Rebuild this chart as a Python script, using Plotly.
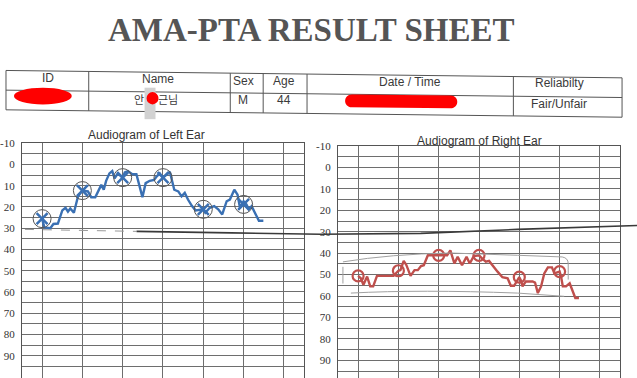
import plotly.graph_objects as go

W, H = 637, 378

# ---------------- data ----------------
freq_ticks = [125, 250, 500, 1000, 2000, 4000, 8000]
db_ticks = [-10, 0, 10, 20, 30, 40, 50, 60, 70, 80, 90, 100]
db_tick_text = ["-10", "0", "10", "20", "30", "40", "50", "60", "70", "80", "90", "100"]

left_freq = [125, 130, 144, 152, 164, 177, 187, 195, 203, 216, 232, 250, 275, 291, 312,
             332, 346, 361, 376, 398, 418, 435, 460, 500, 518, 547, 590, 633, 702, 742,
             796, 858, 895, 946, 1000, 1094, 1125, 1214, 1301, 1376, 1454, 1537, 1647,
             1753, 2000, 2070, 2235, 2412, 2585, 2770, 2990, 3160, 3410, 3605, 3758,
             4000, 4199, 4377, 4595, 4857, 5205, 5618]
left_db = [25.5, 29.6, 30, 28, 27.8, 21.6, 20.4, 22.2, 20.7, 22.7, 15, 12.3, 12.7, 15.4, 15.4,
           11.9, 9.6, 11.9, 7.7, 4.2, 3.1, 6.5, 4.2, 6.2, 3.7, 3.1, 4.6, 4.6, 15.4, 8.8,
           7.7, 7.3, 5.7, 4.2, 6.2, 4.2, 3.4, 11.9, 12.7, 15, 13.4, 16.5, 19.6,
           21.6, 21.1, 22.7, 20.4, 19.6, 21.1, 23.5, 17.3, 16.5, 11.9, 14.2, 20.4,
           17.3, 18.8, 21.1, 19.6, 22.7, 26.5, 26.5]

left_mark_freq = [125, 250, 500, 1000, 2000, 4000]
left_mark_db = [25.5, 12.3, 6.2, 6.2, 21.1, 18.8]

right_freq = [125, 131, 137, 146, 154, 162, 173, 230, 250, 259, 274, 287, 308, 330, 349,
              369, 387, 415, 444, 500, 528, 578, 611, 655, 693, 747, 807, 853, 914, 1000,
              1057, 1125, 1189, 1257, 1376, 1495, 1636, 1729, 1828, 2000, 2060, 2114,
              2235, 2514, 2621, 2751, 2908, 3074, 3271, 3506, 3655, 4000, 4100, 4228,
              4469, 4757, 4959, 5241, 5579]
right_db = [50.6, 51.7, 54.7, 50.9, 55.5, 55.5, 50.6, 50.6, 48.2, 47.9, 43.6, 45.6, 50.6, 47.9, 47.9,
            46, 45.6, 41, 41, 41, 41, 41, 38.7, 44.8, 41.7, 45.6, 41.7, 44.8, 41.4, 41,
            42.5, 44, 43.6, 45.6, 48.6, 51.2, 51.7, 55.2, 55.2, 51.2, 52.8, 55.5,
            53.2, 53.2, 53.7, 58.6, 55.5, 49.4, 46.6, 46.6, 49.4, 48.6, 50.9, 55.5,
            55.5, 54, 57.3, 60.9, 60.9]

right_mark_freq = [125, 250, 500, 1000, 2000, 4000]
right_mark_db = [50.6, 48.2, 41, 41, 51.2, 48.6]

header_labels = ["ID", "Name", "Sex", "Age", "Date / Time", "Reliabilty"]
row_values = ["M", "44", "Fair/Unfair"]

# ---------------- helpers ----------------
def px(x):
    return x / W

def py(y):
    return 1 - y / H

BLUE = "#3a70b3"
RED = "#bf4f4c"
GRID = "#6e6e6e"
SANS = "Liberation Sans, Arial, sans-serif"
SERIF = "Liberation Serif, Times New Roman, serif"

fig = go.Figure()

# left ear
fig.add_trace(go.Scatter(x=left_freq, y=left_db, mode="lines",
                         line=dict(color=BLUE, width=2.4), xaxis="x", yaxis="y",
                         showlegend=False, hoverinfo="skip"))
fig.add_trace(go.Scatter(x=left_mark_freq, y=left_mark_db, mode="markers",
                         marker=dict(symbol="circle-open", size=18, color="#555555",
                                     line=dict(width=1, color="#555555")),
                         xaxis="x", yaxis="y", showlegend=False, hoverinfo="skip"))
fig.add_trace(go.Scatter(x=left_mark_freq, y=left_mark_db, mode="markers",
                         marker=dict(symbol="x-thin-open", size=11, color=BLUE,
                                     line=dict(width=2.5, color=BLUE)),
                         xaxis="x", yaxis="y", showlegend=False, hoverinfo="skip"))

# right ear
fig.add_trace(go.Scatter(x=right_freq, y=right_db, mode="lines",
                         line=dict(color=RED, width=2.4), xaxis="x2", yaxis="y2",
                         showlegend=False, hoverinfo="skip"))
fig.add_trace(go.Scatter(x=right_mark_freq, y=right_mark_db, mode="markers",
                         marker=dict(symbol="circle-open", size=11, color=RED,
                                     line=dict(width=2.2, color=RED)),
                         xaxis="x2", yaxis="y2", showlegend=False, hoverinfo="skip"))

xcommon = dict(type="log", tickvals=freq_ticks, showticklabels=False, showgrid=True,
               gridcolor=GRID, gridwidth=1, showline=True, linecolor="#555555",
               linewidth=1, side="top", mirror=False, ticks="", zeroline=False,
               fixedrange=True)
ycommon = dict(tickvals=db_ticks, ticktext=db_tick_text, showgrid=True, gridcolor=GRID,
               gridwidth=1,
               minor=dict(dtick=5, tick0=0, showgrid=True, gridcolor=GRID, gridwidth=1),
               showline=True, linecolor="#555555", linewidth=1, mirror=True,
               ticks="", zeroline=False, tickfont=dict(family=SERIF, size=11, color="#333333"),
               ticklabelstandoff=4, fixedrange=True)

fig.update_layout(
    width=W, height=H, autosize=False,
    margin=dict(l=0, r=0, t=0, b=0),
    paper_bgcolor="white", plot_bgcolor="white",
    xaxis=dict(xcommon, domain=[px(20), px(303)], range=[1.9464, 4.0536], anchor="y"),
    yaxis=dict(ycommon, domain=[0, py(139.4)], range=[100.46, -10], anchor="x"),
    xaxis2=dict(xcommon, domain=[px(337), px(620)], range=[1.9464, 4.0536], anchor="y2"),
    yaxis2=dict(ycommon, domain=[0, py(142.2)], range=[98.2, -10], anchor="x2"),
)

ann = []
def text(x, y, s, size=12, font=SANS, color="#3a3a3a", **kw):
    ann.append(dict(x=px(x), y=py(y), xref="paper", yref="paper", text=s, showarrow=False,
                    xanchor="center", yanchor="middle",
                    font=dict(family=font, size=size, color=color), **kw))

# title
text(310, 24, "<b>AMA-PTA RESULT SHEET</b>", size=33, font=SERIF, color="#555555")

# table text
hx = [46, 156, 242, 283, 409, 559]
hy = [73, 74, 76, 76, 77, 78.5]
for lab, x, y in zip(header_labels, hx, hy):
    text(x, y, lab)
text(137, 94, "안", font="Noto Sans CJK KR", size=11)
text(167, 94.5, "근님", font="Noto Sans CJK KR", size=11)
for v, x, y in zip(row_values, [242, 283, 559], [96, 96, 99.5]):
    text(x, y, v)

# subplot titles
text(145, 131, "Audiogram of Left Ear", size=12, color="#333333")
text(479, 137, "Audiogram of Right Ear", size=12, color="#333333")

fig.update_layout(annotations=ann)

shapes = []
# table lines (slightly tilted scan)
slope = 7.5 / 618
def ty(x, y0):
    return y0 + (x - 4) * slope
for y0 in [65.5, 85.5, 105.5]:
    shapes.append(dict(type="line", xref="paper", yref="paper",
                       x0=px(4), y0=py(ty(4, y0)), x1=px(622), y1=py(ty(622, y0)),
                       line=dict(color="#555555", width=1)))
for x in [4, 87, 229, 262, 306, 513, 622]:
    shapes.append(dict(type="line", xref="paper", yref="paper",
                       x0=px(x), y0=py(ty(x, 65.5)), x1=px(x), y1=py(ty(x, 105.5)),
                       line=dict(color="#555555", width=1)))

# redactions
shapes.append(dict(type="rect", xref="paper", yref="paper", x0=px(143), x1=px(154),
                   y0=py(83), y1=py(115), fillcolor="#d2d2d2", line=dict(width=0)))
shapes.append(dict(type="circle", xref="paper", yref="paper", x0=px(145), x1=px(157),
                   y0=py(87.5), y1=py(100), fillcolor="#ff0000", line=dict(width=0)))
shapes.append(dict(type="circle", xref="paper", yref="paper", x0=px(12), x1=px(70),
                   y0=py(83), y1=py(100), fillcolor="#ff0000", line=dict(width=0)))

def P(x, y):
    return f"{px(x):.5f},{py(y):.5f}"
blob = (f"M {P(351,90)} L {P(450,91)} C {P(459,91)} {P(459,104)} {P(450,104)} "
        f"L {P(351,103)} C {P(342,103)} {P(342,90)} {P(351,90)} Z")
shapes.append(dict(type="path", xref="paper", yref="paper", path=blob,
                   fillcolor="#ff0000", line=dict(width=0)))

# hand-drawn 30 dB line across both charts
faint = f"M {P(23,227)} L {P(135,229)}"
shapes.append(dict(type="path", xref="paper", yref="paper", path=faint,
                   line=dict(color="#9a9a9a", width=1, dash="dash")))
dark = (f"M {P(135,229)} L {P(230,230.5)} L {P(320,232)} L {P(420,231)} "
        f"L {P(517,227)} L {P(637,223)}")
shapes.append(dict(type="path", xref="paper", yref="paper", path=dark,
                   line=dict(color="#3a3a3a", width=1.6)))

# light gray brackets on right chart
top = (f"M {P(342,260)} Q {P(390,252)} {P(450,251)} L {P(517,253.3)} L {P(562,255)} "
       f"Q {P(568,256)} {P(568,262)} L {P(568,278)}")
shapes.append(dict(type="path", xref="paper", yref="paper", path=top,
                   line=dict(color="#a0a0a0", width=1)))
bot = f"M {P(350,291.7)} Q {P(420,288)} {P(517,291.7)} L {P(564,295)}"
shapes.append(dict(type="path", xref="paper", yref="paper", path=bot,
                   line=dict(color="#a0a0a0", width=1)))
shapes.append(dict(type="line", xref="paper", yref="paper", x0=px(342), x1=px(342),
                   y0=py(265), y1=py(282), line=dict(color="#a0a0a0", width=1)))

fig.update_layout(shapes=shapes)

fig.write_html("out.html",
               config={"displayModeBar": False, "staticPlot": True},
               post_script="document.body.style.margin='0';document.body.style.padding='0';")
